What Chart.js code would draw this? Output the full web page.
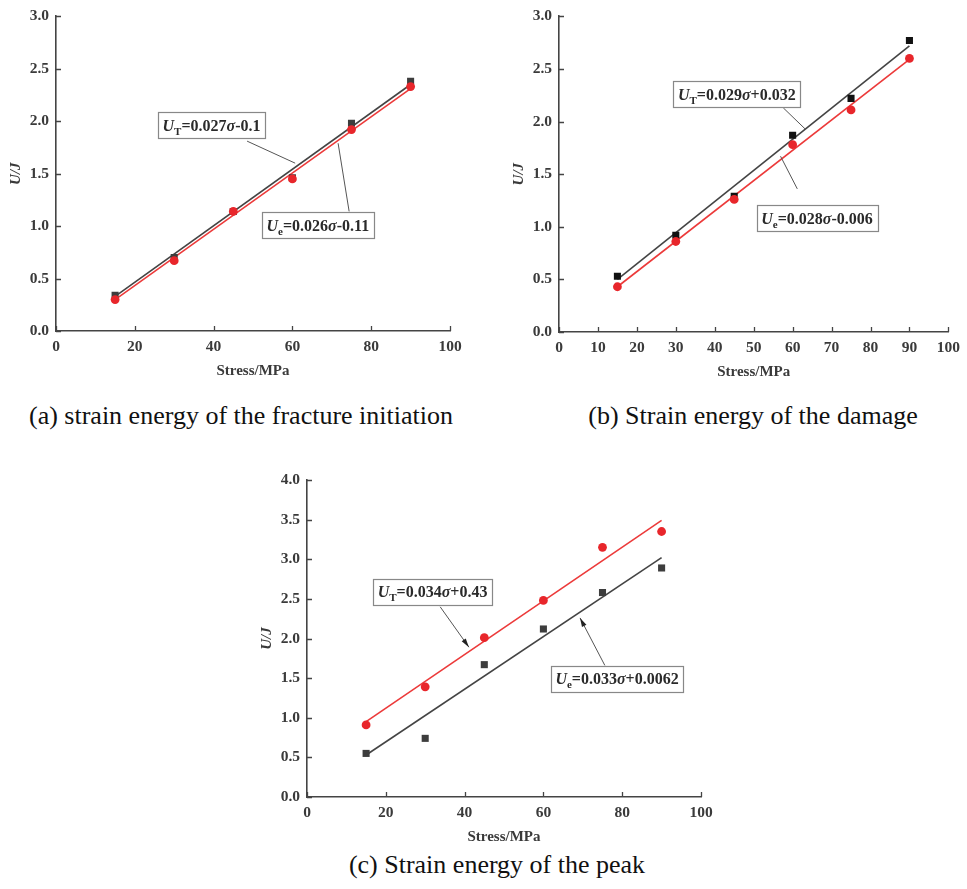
<!DOCTYPE html>
<html>
<head>
<meta charset="utf-8">
<script src="https://cdn.jsdelivr.net/npm/chart.js@4.4.1/dist/chart.umd.min.js"></script>
<style>
  body { margin: 0; background: #fff; width: 967px; height: 889px; position: relative; overflow: hidden; }
  canvas { position: absolute; }
  .cap {
    position: absolute;
    font-family: 'Liberation Serif', 'Times New Roman', serif;
    font-size: 26px; line-height: 26px; color: #111;
    white-space: nowrap; transform: translateX(-50%);
  }
</style>
</head>
<body>
<canvas id="chartA" width="470" height="380" style="left:0;top:0"></canvas>
<canvas id="chartB" width="487" height="381" style="left:480px;top:0"></canvas>
<canvas id="chartC" width="480" height="386" style="left:240px;top:460px"></canvas>
<div class="cap" style="left:241px;top:403px">(a) strain energy of the fracture initiation</div>
<div class="cap" style="left:753px;top:403px">(b) Strain energy of the damage</div>
<div class="cap" style="left:497px;top:852px">(c) Strain energy of the peak</div>
<script>
// stress levels (MPa) and fitted-line end points
const stress = [15, 30, 45, 60, 75, 90];
const fitX = [15, 90];

// (a) fracture initiation
const totalA = [0.34, 0.70, 1.14, 1.46, 1.98, 2.38];
const elasticA = [0.30, 0.67, 1.14, 1.45, 1.92, 2.33];
const totalFitA = [0.33, 2.35];
const elasticFitA = [0.30, 2.31];

// (b) damage
const totalB = [0.53, 0.92, 1.29, 1.87, 2.22, 2.77];
const elasticB = [0.43, 0.86, 1.26, 1.78, 2.11, 2.60];
const totalFitB = [0.50, 2.72];
const elasticFitB = [0.43, 2.59];

// (c) peak
const totalC = [0.91, 1.39, 2.01, 2.48, 3.15, 3.35];
const elasticC = [0.55, 0.74, 1.67, 2.12, 2.58, 2.89];
const totalFitC = [0.95, 3.49];
const elasticFitC = [0.53, 3.02];

const FONT = "'Liberation Serif', 'Times New Roman', serif";
const AXIS = '#444';
const RED = '#e8262b';
const RED_LINE = '#ec3a3a';

function pts(xs, ys) {
  return xs.map((x, i) => ({ x: x, y: ys[i] }));
}

// equation label pieces: U (italic), subscript, text, sigma (italic), text
function eq(sub, a, b) {
  return [
    { t: 'U', it: true }, { t: sub, sub: true }, { t: '=' + a },
    { t: '\u03c3', it: true }, { t: b }
  ];
}

function partFont(p) {
  if (p.sub) return 'bold 11px ' + FONT;
  return (p.it ? 'italic ' : '') + 'bold 16px ' + FONT;
}

// ticks pointing into the plot
const inwardTicks = {
  id: 'inwardTicks',
  afterDraw(chart) {
    const { ctx, chartArea, scales } = chart;
    ctx.save();
    ctx.strokeStyle = AXIS;
    ctx.lineWidth = 1.3;
    ctx.beginPath();
    scales.x.ticks.forEach(t => {
      const px = Math.round(scales.x.getPixelForValue(t.value)) + 0.5;
      ctx.moveTo(px, chartArea.bottom);
      ctx.lineTo(px, chartArea.bottom - 5);
    });
    scales.y.ticks.forEach(t => {
      const py = Math.round(scales.y.getPixelForValue(t.value)) + 0.5;
      ctx.moveTo(chartArea.left, py);
      ctx.lineTo(chartArea.left + 5, py);
    });
    ctx.stroke();
    ctx.restore();
  }
};

// boxed fit equations with leader lines
const eqNotes = {
  id: 'eqNotes',
  afterDatasetsDraw(chart, args, opts) {
    const { ctx, scales: { x, y } } = chart;
    (opts.notes || []).forEach(n => {
      const x0 = x.getPixelForValue(n.from[0]), y0 = y.getPixelForValue(n.from[1]);
      const x1 = x.getPixelForValue(n.to[0]), y1 = y.getPixelForValue(n.to[1]);
      ctx.save();
      ctx.strokeStyle = '#555';
      ctx.fillStyle = '#222';
      ctx.lineWidth = 1;
      ctx.beginPath();
      ctx.moveTo(x0, y0);
      ctx.lineTo(x1, y1);
      ctx.stroke();
      if (n.arrow) {
        const ang = Math.atan2(y1 - y0, x1 - x0);
        ctx.beginPath();
        ctx.moveTo(x1, y1);
        ctx.lineTo(x1 - 9 * Math.cos(ang) + 2.5 * Math.sin(ang), y1 - 9 * Math.sin(ang) - 2.5 * Math.cos(ang));
        ctx.lineTo(x1 - 9 * Math.cos(ang) - 2.5 * Math.sin(ang), y1 - 9 * Math.sin(ang) + 2.5 * Math.cos(ang));
        ctx.closePath();
        ctx.fill();
      }

      let w = 0;
      n.parts.forEach(p => { ctx.font = partFont(p); w += ctx.measureText(p.t).width; });
      const left = x.getPixelForValue(n.x);
      const mid = y.getPixelForValue(n.y);
      const bw = w + 9, bh = 26;
      ctx.fillStyle = '#fff';
      ctx.fillRect(left, mid - bh / 2, bw, bh);
      ctx.strokeStyle = '#888';
      ctx.lineWidth = 1.2;
      ctx.strokeRect(Math.round(left) + 0.5, Math.round(mid - bh / 2) + 0.5, Math.round(bw), bh);

      let cx = left + 4.5;
      const base = mid + 5.5;
      ctx.fillStyle = '#2a2a2a';
      ctx.textBaseline = 'alphabetic';
      n.parts.forEach(p => {
        ctx.font = partFont(p);
        ctx.fillText(p.t, cx, p.sub ? base + 4 : base);
        cx += ctx.measureText(p.t).width;
      });
      ctx.restore();
    });
  }
};

function makeChart(id, cfg) {
  const datasets = [];
  cfg.series.forEach(s => {
    datasets.push({
      data: pts(stress, s.values),
      pointStyle: s.square ? 'rect' : 'circle',
      pointRadius: s.square ? 5 : 4.4,
      backgroundColor: s.color,
      borderColor: s.color,
      borderWidth: 0,
      showLine: false
    });
  });
  cfg.series.forEach(s => {
    datasets.push({
      data: pts(fitX, s.fit),
      showLine: true,
      pointRadius: 0,
      borderColor: s.line,
      borderWidth: 1.6,
      fill: false
    });
  });

  return new Chart(document.getElementById(id), {
    type: 'scatter',
    data: { datasets: datasets },
    options: {
      responsive: false,
      animation: false,
      layout: { padding: cfg.padding },
      plugins: {
        legend: { display: false },
        tooltip: { enabled: false },
        eqNotes: { notes: cfg.notes }
      },
      scales: {
        x: {
          type: 'linear', min: 0, max: 100,
          afterFit: s => { s.height = 49; },
          grid: { display: false, drawTicks: false },
          border: { display: true, color: AXIS, width: 1.6 },
          ticks: {
            stepSize: cfg.xStep, padding: 7, color: '#3a3a3a',
            font: { family: FONT, size: 15.5, weight: 'bold' }
          },
          title: {
            display: true, text: 'Stress/MPa', color: '#3a3a3a',
            padding: { top: 0, bottom: 0 },
            font: { family: FONT, size: 15, weight: 'bold' }
          }
        },
        y: {
          type: 'linear', min: 0, max: cfg.yMax,
          afterFit: s => { s.width = 56; },
          grid: { display: false, drawTicks: false },
          border: { display: true, color: AXIS, width: 1.6 },
          ticks: {
            stepSize: 0.5, padding: 7, color: '#3a3a3a',
            callback: v => v.toFixed(1),
            font: { family: FONT, size: 15.5, weight: 'bold' }
          },
          title: {
            display: true, text: 'U/J', color: '#3a3a3a',
            padding: { top: 7, bottom: 0 },
            font: { family: FONT, size: 15, weight: 'bold', style: 'italic' }
          }
        }
      }
    },
    plugins: [inwardTicks, eqNotes]
  });
}

makeChart('chartA', {
  xStep: 20, yMax: 3,
  padding: { left: 0, top: 14, right: 20, bottom: 0 },
  series: [
    { values: elasticA, fit: elasticFitA, color: RED, line: RED_LINE },
    { values: totalA, fit: totalFitA, color: '#3d3d3d', line: '#444', square: true }
  ],
  notes: [
    { parts: eq('T', '0.027', '-0.1'), x: 25.9, y: 1.96, from: [48.5, 1.81], to: [60.7, 1.60] },
    { parts: eq('e', '0.026', '-0.11'), x: 52.3, y: 1.01, from: [74.4, 1.14], to: [71.6, 1.79] }
  ]
});

makeChart('chartB', {
  xStep: 10, yMax: 3,
  padding: { left: 23, top: 15, right: 14, bottom: 0 },
  series: [
    { values: elasticB, fit: elasticFitB, color: RED, line: RED_LINE },
    { values: totalB, fit: totalFitB, color: '#111', line: '#444', square: true }
  ],
  notes: [
    { parts: eq('T', '0.029', '+0.032'), x: 29.4, y: 2.26, from: [57.6, 2.13], to: [63.2, 1.93] },
    { parts: eq('e', '0.028', '-0.006'), x: 50.8, y: 1.08, from: [61.2, 1.36], to: [56.9, 1.67] }
  ]
});

makeChart('chartC', {
  xStep: 20, yMax: 4,
  padding: { left: 11, top: 20, right: 19, bottom: 0 },
  series: [
    { values: totalC, fit: totalFitC, color: RED, line: RED_LINE },
    { values: elasticC, fit: elasticFitC, color: '#3d3d3d', line: '#444', square: true }
  ],
  notes: [
    { parts: eq('T', '0.034', '+0.43'), x: 16.8, y: 2.59, from: [33.8, 2.40], to: [41.1, 1.89], arrow: true },
    { parts: eq('e', '0.033', '+0.0062'), x: 61.9, y: 1.49, from: [75.6, 1.66], to: [69.3, 2.26], arrow: true }
  ]
});
</script>
</body>
</html>
